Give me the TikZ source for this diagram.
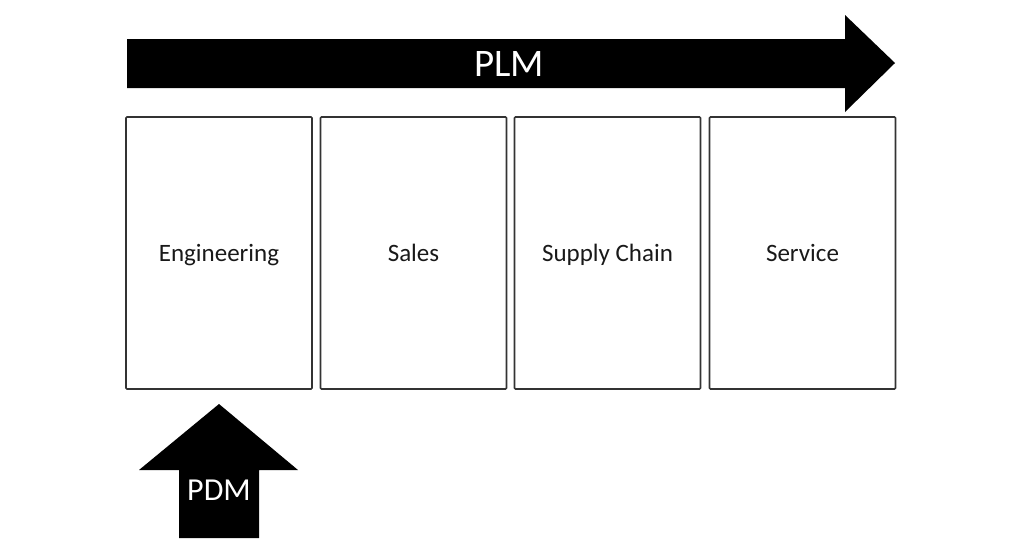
\documentclass[tikz,border=0pt]{standalone}
\usepackage{fontspec}
\setmainfont{Carlito}
\begin{document}
\begin{tikzpicture}[x=1pt,y=-1pt,
  stage/.style={draw=black!80,line width=1.6pt,rounded corners=1pt,minimum width=186pt,minimum height=272pt,inner sep=0pt,text height=19pt,text depth=3pt,font=\fontsize{25}{30}\selectfont,text=black!90},
  bigarrow/.style={fill=black,draw=none},
  arrowlabel/.style={text=white,inner sep=0pt}]
\useasboundingbox (0,0) rectangle (1024,555);
\fill[bigarrow] (127,39) -- (845,39) -- (845,15) -- (895,63) -- (845,112) -- (845,88) -- (127,88) -- cycle;
\node[arrowlabel,font=\fontsize{39}{42}\selectfont] (plm) at (509,64) {PLM};
\node[stage] (eng) at (219,253) {Engineering};
\node[stage] (sales) at (413.5,253) {Sales};
\node[stage] (supply) at (607.5,253) {Supply Chain};
\node[stage] (service) at (802.5,253) {Service};
\fill[bigarrow] (219,404) -- (298,470) -- (259,470) -- (259,538) -- (179,538) -- (179,470) -- (139,470) -- cycle;
\node[arrowlabel,font=\fontsize{32}{36}\selectfont] (pdm) at (219,490) {PDM};
\end{tikzpicture}
\end{document}
